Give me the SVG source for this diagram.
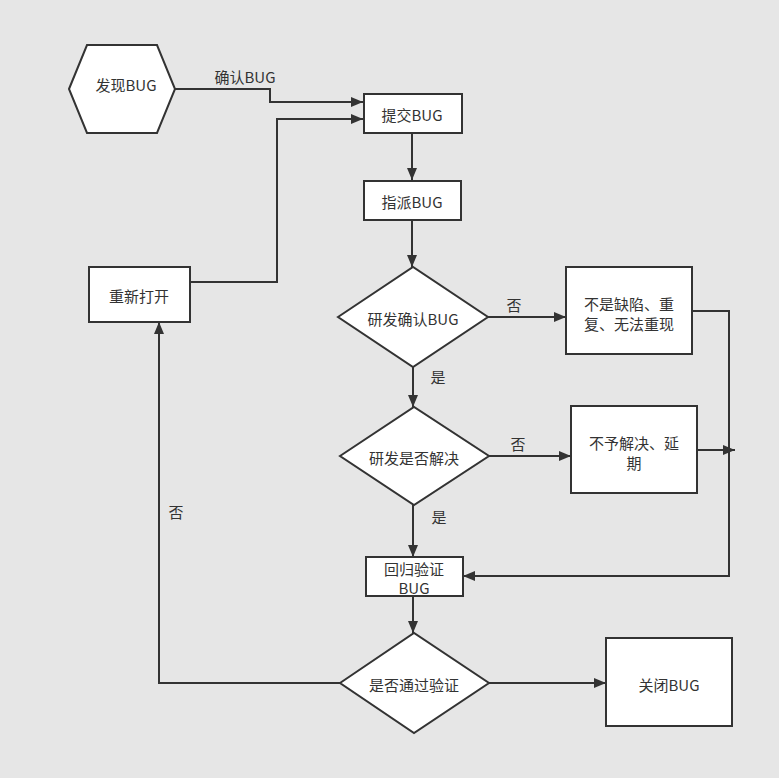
<svg xmlns="http://www.w3.org/2000/svg" width="779" height="778" viewBox="0 0 779 778">
<defs>
<marker id="arr" viewBox="0 0 12 10" refX="12" refY="5" markerWidth="12" markerHeight="10" markerUnits="userSpaceOnUse" orient="auto">
<path d="M0,0 L12,5 L0,10 Z" fill="#333"/>
</marker>
<style>
.n{fill:#fff;stroke:#333;stroke-width:2}
.t{font-family:"Noto Sans CJK SC","Microsoft YaHei",sans-serif;font-size:15px;fill:#333;text-anchor:middle;dominant-baseline:central}
.c{fill:none;stroke:#333;stroke-width:2}
.a{marker-end:url(#arr)}
</style>
</defs>
<rect width="779" height="778" fill="#e6e6e6"/>
<g id="connectors">
<polyline class="c a" points="175,89 270,89 270,102 363,102"/>
<polyline class="c a" points="190,282 277,282 277,119 363,119"/>
<line class="c a" x1="412" y1="133" x2="412" y2="180"/>
<line class="c a" x1="412" y1="220" x2="412" y2="267"/>
<line class="c a" x1="488" y1="317" x2="566" y2="317"/>
<line class="c a" x1="413" y1="367" x2="413" y2="407"/>
<line class="c a" x1="489" y1="456" x2="571" y2="456"/>
<line class="c a" x1="413" y1="504" x2="413" y2="557"/>
<polyline class="c a" points="692,311 729,311 729,576 463,576"/>
<line class="c a" x1="697" y1="450" x2="735" y2="450"/>
<line class="c a" x1="413" y1="596" x2="413" y2="633"/>
<line class="c a" x1="489" y1="683" x2="606" y2="683"/>
<polyline class="c a" points="340,683 159,683 159,322"/>
<text class="t" x="245" y="76">确认BUG</text>
<text class="t" x="514" y="304">否</text>
<text class="t" x="438" y="376">是</text>
<text class="t" x="518" y="443">否</text>
<text class="t" x="439" y="516">是</text>
<text class="t" x="176" y="511">否</text>
</g>
<g id="n-find"><polygon class="n" points="69,89 87,45 157,45 175,89 157,133 87,133"/><text class="t" x="126" y="84">发现BUG</text></g>
<g id="n-submit"><rect class="n" x="364" y="94" width="98" height="39"/><text class="t" x="412" y="114">提交BUG</text></g>
<g id="n-assign"><rect class="n" x="364" y="181" width="97" height="39"/><text class="t" x="412" y="201">指派BUG</text></g>
<g id="n-confirm"><polygon class="n" points="338,317 413,267 488,317 413,367"/><text class="t" x="413" y="318">研发确认BUG</text></g>
<g id="n-notbug"><rect class="n" x="566" y="267" width="126" height="87"/><text class="t" x="629" y="303">不是缺陷、重</text><text class="t" x="629" y="323">复、无法重现</text></g>
<g id="n-resolve"><polygon class="n" points="340,456 414,407 489,456 414,505"/><text class="t" x="414" y="457">研发是否解决</text></g>
<g id="n-defer"><rect class="n" x="571" y="406" width="126" height="87"/><text class="t" x="634" y="442">不予解决、延</text><text class="t" x="634" y="462">期</text></g>
<g id="n-regress"><rect class="n" x="366" y="557" width="97" height="39"/><text class="t" x="414" y="568">回归验证</text><text class="t" x="414" y="587">BUG</text></g>
<g id="n-verify"><polygon class="n" points="340,683 414,633 489,683 414,733"/><text class="t" x="414" y="684">是否通过验证</text></g>
<g id="n-close"><rect class="n" x="606" y="638" width="126" height="88"/><text class="t" x="669" y="684">关闭BUG</text></g>
<g id="n-reopen"><rect class="n" x="89" y="267" width="101" height="55"/><text class="t" x="139" y="295">重新打开</text></g>
</svg>
